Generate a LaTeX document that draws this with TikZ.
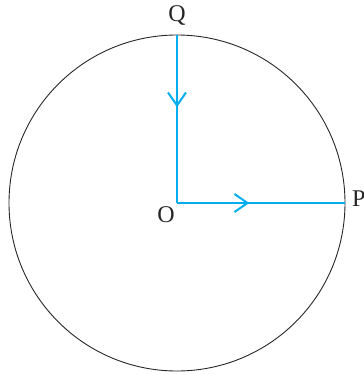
\documentclass[tikz,border=0pt]{standalone}
\usepackage{fontspec}
\setmainfont{Liberation Serif}
\usetikzlibrary{arrows.meta,decorations.markings}
\definecolor{raycyan}{RGB}{0,174,239}
\begin{document}
\begin{tikzpicture}[
  x=1pt,y=1pt,
  font=\fontsize{24}{24}\selectfont,
  rim/.style={draw=black!85,line width=0.9pt},
  ray/.style={draw=raycyan,line width=2pt,
    postaction={decorate},
    decoration={markings,mark=at position 0.43 with
      {\arrow{Straight Barb[length=13pt,width=18pt,line width=2pt]}}}},
  lbl/.style={inner sep=0pt,text=black!85,anchor=base}]
\useasboundingbox (-177,-172) rectangle (187,203);
% points
\coordinate (O) at (0,0);
\coordinate (Q) at (0,168);
\coordinate (P) at (168,0);
% circle
\draw[rim] (O) circle (168);
% labels
\node[lbl] (lQ) at (0,181) {Q};
\node[lbl] (lO) at (-11,-19) {O};
\node[lbl,anchor=base west] (lP) at (175,-3) {P};
% rays
\draw[ray] (Q) -- (O);
\draw[ray] (O) -- (P);
\end{tikzpicture}
\end{document}
